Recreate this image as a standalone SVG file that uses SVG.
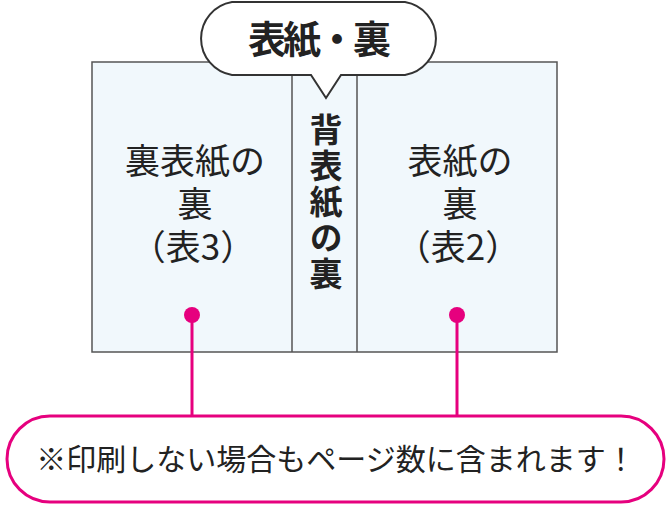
<svg xmlns="http://www.w3.org/2000/svg" width="670" height="508" viewBox="0 0 670 508">
<style>
.page{fill:#f1f8fc;stroke:#555;stroke-width:1.5}
.t{font-family:"Noto Sans CJK JP","Noto Sans",sans-serif;fill:#222;text-anchor:middle}
.pk{stroke:#e6007e;stroke-width:3;fill:none}
.dot{fill:#e6007e}
</style>
<g id="book">
<rect class="page" x="92" y="62" width="465" height="290"/>
<line class="page" x1="292" y1="62" x2="292" y2="352"/>
<line class="page" x1="357" y1="62" x2="357" y2="352"/>
</g>
<g id="back-cover">
<text class="t" font-size="35" x="195" y="174">裏表紙の</text>
<text class="t" font-size="35" x="195" y="217">裏</text>
<text class="t" font-size="35" x="193" y="260">（表3）</text>
<circle class="dot" cx="192" cy="315" r="8"/>
</g>
<g id="spine">
<text font-family="Noto Sans CJK JP, Noto Sans, sans-serif" fill="#222" font-size="33" font-weight="bold" writing-mode="vertical-rl" letter-spacing="3" x="326" y="113">背表紙の裏</text>
</g>
<g id="front-cover">
<text class="t" font-size="35" x="460" y="174">表紙の</text>
<text class="t" font-size="35" x="460" y="217">裏</text>
<text class="t" font-size="35" x="458" y="260">（表2）</text>
<circle class="dot" cx="457" cy="315" r="8"/>
</g>
<g id="callout">
<path d="M232,2 H405 A37,37 0 0 1 405,75 H341 L326,98 L311,75 H232 A37,37 0 0 1 232,2 Z" fill="#fff" stroke="#333" stroke-width="2"/>
<text class="t" font-size="38" font-weight="bold" letter-spacing="-3" x="318" y="53">表紙・裏</text>
</g>
<g id="connectors">
<line class="pk" x1="192" y1="315" x2="192" y2="416"/>
<line class="pk" x1="457" y1="315" x2="457" y2="416"/>
</g>
<g id="note">
<rect x="7" y="416" width="657" height="86" rx="43" fill="#fff" stroke="#e6007e" stroke-width="3"/>
<text class="t" font-size="30" x="336" y="470">※印刷しない場合もページ数に含まれます！</text>
</g>
</svg>
